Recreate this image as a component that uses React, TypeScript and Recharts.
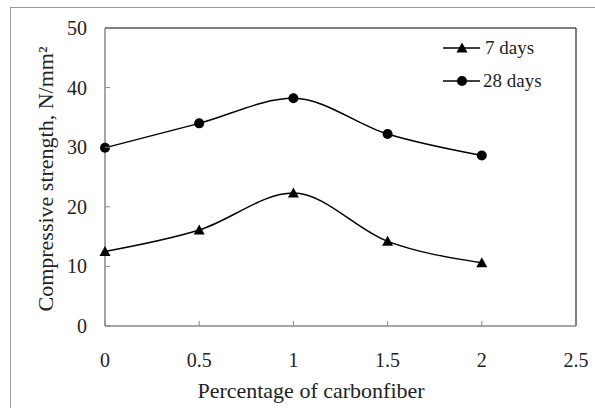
import { LineChart, Line, XAxis, YAxis, ReferenceLine } from 'recharts';

const fiberPct = [0, 0.5, 1, 1.5, 2];
const days7 = [12.5, 16.1, 22.3, 14.2, 10.6];
const days28 = [29.9, 34.0, 38.2, 32.2, 28.6];
const xTicks = [0, 0.5, 1, 1.5, 2, 2.5];
const yTicks = [0, 10, 20, 30, 40, 50];

const FONT = '"Liberation Serif", "Times New Roman", serif';

const data = fiberPct.map((p, i) => ({ pct: p, d7: days7[i], d28: days28[i] }));

function Triangle({ cx, cy }: any) {
  if (cx == null || cy == null) return null;
  return <path d={`M${cx},${cy - 5.5} L${cx + 5.5},${cy + 4.5} L${cx - 5.5},${cy + 4.5} Z`} fill="#000" />;
}

function Dot({ cx, cy }: any) {
  if (cx == null || cy == null) return null;
  return <circle cx={cx} cy={cy} r={5} fill="#000" />;
}

// ticks point inward, so draw them with the label
function YTick({ x, y, payload }: any) {
  return (
    <g>
      <line x1={x + 18} x2={x + 23} y1={y} y2={y} stroke="#888" />
      <text x={x} y={y} dy={7} textAnchor="end" fontFamily={FONT} fontSize={20} fill="#222">
        {payload.value}
      </text>
    </g>
  );
}

function XTick({ x, y, payload }: any) {
  return (
    <g>
      <line x1={x} x2={x} y1={y - 26} y2={y - 31} stroke="#888" />
      <text x={x} y={y} dy={15} textAnchor="middle" fontFamily={FONT} fontSize={20} fill="#222">
        {payload.value}
      </text>
    </g>
  );
}

function XTitle() {
  return (
    <text x={311} y={398} textAnchor="middle" fontFamily={FONT} fontSize={22} fill="#222">
      Percentage of carbonfiber
    </text>
  );
}

function YTitle() {
  return (
    <text x={53} y={179} transform="rotate(-90, 53, 179)" textAnchor="middle" fontFamily={FONT} fontSize={22} fill="#222">
      Compressive strength, N/mm²
    </text>
  );
}

function LegendBox() {
  return (
    <svg width={150} height={60} style={{ position: 'absolute', left: 440, top: 36 }}>
      <line x1={3} x2={40} y1={12} y2={12} stroke="#000" strokeWidth={1.5} />
      <Triangle cx={22} cy={12} />
      <text x={45} y={18} fontFamily={FONT} fontSize={19} fill="#222">7 days</text>
      <line x1={3} x2={40} y1={45} y2={45} stroke="#000" strokeWidth={1.5} />
      <Dot cx={22} cy={45} />
      <text x={43} y={51} fontFamily={FONT} fontSize={19} fill="#222">28 days</text>
    </svg>
  );
}

export default function App() {
  return (
    <div style={{ position: 'absolute', left: 0, top: 0, width: 595, height: 408, background: '#fff', overflow: 'hidden' }}>
      <div
        style={{
          position: 'absolute',
          left: 10,
          top: 7,
          width: 620,
          height: 420,
          borderLeft: '1.5px solid #999',
          borderTop: '1.5px solid #999',
        }}
      />
      <div style={{ position: 'absolute', left: 0, top: 0 }}>
        <LineChart width={595} height={408} data={data} margin={{ top: 28, right: 19, bottom: 6, left: 45 }}>
          <XAxis
            dataKey="pct"
            type="number"
            domain={[0, 2.5]}
            ticks={xTicks}
            tickSize={0}
            tickMargin={26}
            tick={<XTick />}
            axisLine={{ stroke: '#888', strokeWidth: 1.5 }}
            height={76}
            label={{ content: () => <XTitle /> }}
          />
          <YAxis
            type="number"
            domain={[0, 50]}
            ticks={yTicks}
            tickSize={0}
            tickMargin={18}
            tick={<YTick />}
            axisLine={{ stroke: '#888', strokeWidth: 1.5 }}
            width={60}
            label={{ content: () => <YTitle /> }}
          />
          <ReferenceLine y={50} stroke="#555" strokeWidth={1.5} />
          <ReferenceLine x={2.5} stroke="#555" strokeWidth={1.5} />
          <Line
            dataKey="d7"
            type="monotone"
            stroke="#000"
            strokeWidth={1.5}
            dot={<Triangle />}
            activeDot={false}
            isAnimationActive={false}
          />
          <Line
            dataKey="d28"
            type="monotone"
            stroke="#000"
            strokeWidth={1.5}
            dot={<Dot />}
            activeDot={false}
            isAnimationActive={false}
          />
        </LineChart>
      </div>
      <LegendBox />
    </div>
  );
}
